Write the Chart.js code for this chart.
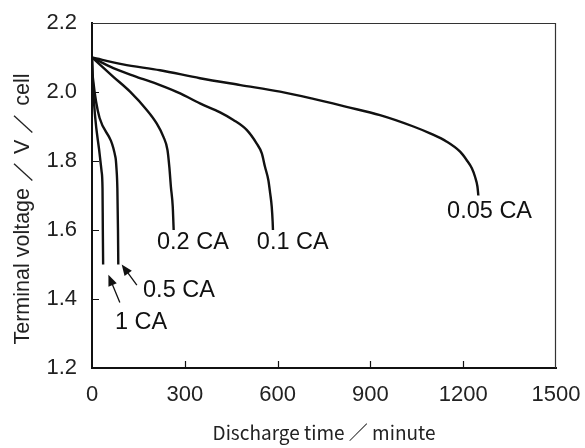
<!DOCTYPE html>
<html>
<head>
<meta charset="utf-8">
<script src="https://cdn.jsdelivr.net/npm/chart.js@4"></script>
<style>
  html, body { margin: 0; padding: 0; background: #fff; }
  #wrap { width: 585px; height: 448px; }
</style>
</head>
<body>
<div id="wrap"><canvas id="DischargeChart" width="585" height="448"></canvas></div>
<script>
// discharge curves: time in minutes, voltage in V/cell
var rate_names = ['1 CA', '0.5 CA', '0.2 CA', '0.1 CA', '0.05 CA'];

var time_1ca = [0, 2, 26, 31, 34, 35, 36];
var volt_1ca = [2.10, 2.04, 1.81, 1.77, 1.72, 1.60, 1.50];

var time_05ca = [0, 3, 76, 79, 82, 84, 85];
var volt_05ca = [2.10, 2.04, 1.81, 1.78, 1.72, 1.60, 1.50];

var time_02ca = [0, 69, 123, 177, 209, 231, 244, 250, 255, 261, 263, 264];
var volt_02ca = [2.10, 2.044, 2.001, 1.948, 1.909, 1.870, 1.832, 1.783, 1.726, 1.668, 1.624, 1.60];

var time_01ca = [0, 69, 144, 220, 285, 349, 414, 457, 500, 532, 549, 559, 570, 576, 581, 584, 585];
var volt_01ca = [2.10, 2.069, 2.044, 2.020, 1.996, 1.967, 1.941, 1.919, 1.890, 1.851, 1.822, 1.784, 1.745, 1.706, 1.668, 1.624, 1.60];

var time_005ca = [0, 100, 220, 349, 480, 608, 716, 823, 931, 1039, 1093, 1147, 1190, 1211, 1228, 1238, 1246, 1249];
var volt_005ca = [2.10, 2.08, 2.063, 2.04, 2.02, 2.001, 1.980, 1.957, 1.933, 1.900, 1.880, 1.856, 1.827, 1.803, 1.779, 1.755, 1.726, 1.70];

var x_ticks = [0, 300, 600, 900, 1200, 1500];
var y_ticks = [1.2, 1.4, 1.6, 1.8, 2.0, 2.2];

// where each curve's name sits (time, voltage of the text's left-middle point)
var label_time = [74, 165, 210, 533, 1148];
var label_volt = [1.333, 1.426, 1.565, 1.565, 1.655];

// arrows pointing from the 1 CA / 0.5 CA names to their curve ends
var arrow_from_time = [90, 145];
var arrow_from_volt = [1.39, 1.44];
var arrow_to_time = [53, 96];
var arrow_to_volt = [1.47, 1.50];

var curves = [
  [time_1ca, volt_1ca],
  [time_05ca, volt_05ca],
  [time_02ca, volt_02ca],
  [time_01ca, volt_01ca],
  [time_005ca, volt_005ca]
];

var datasets = curves.map(function (c, i) {
  return {
    label: rate_names[i],
    data: c[0].map(function (t, j) { return { x: t, y: c[1][j] }; }),
    borderColor: '#111',
    borderWidth: 2.4,
    pointRadius: 0,
    showLine: true,
    fill: false,
    cubicInterpolationMode: 'monotone'
  };
});

var sansFamily = "'Liberation Sans', Arial, sans-serif";

var extras = {
  id: 'extras',
  afterDatasetsDraw: function (chart) {
    var ctx = chart.ctx, xs = chart.scales.x, ys = chart.scales.y, a = chart.chartArea;
    ctx.save();
    // frame: thin top and right edges
    ctx.strokeStyle = '#333';
    ctx.lineWidth = 1.2;
    ctx.beginPath();
    ctx.moveTo(a.left, a.top + 0.5);
    ctx.lineTo(a.right - 0.5, a.top + 0.5);
    ctx.lineTo(a.right - 0.5, a.bottom);
    ctx.stroke();
    // inward tick marks
    ctx.strokeStyle = '#111';
    ctx.lineWidth = 1.2;
    ctx.beginPath();
    x_ticks.forEach(function (v) {
      if (v === 0 || v === 1500) return;
      var px = Math.round(xs.getPixelForValue(v)) + 0.5;
      ctx.moveTo(px, a.bottom);
      ctx.lineTo(px, a.bottom - 7);
    });
    y_ticks.forEach(function (v) {
      if (v === 1.2 || v === 2.2) return;
      var py = Math.round(ys.getPixelForValue(v)) + 0.5;
      ctx.moveTo(a.left, py);
      ctx.lineTo(a.left + 7, py);
    });
    ctx.stroke();
    // curve names
    ctx.fillStyle = '#111';
    ctx.font = '23.5px ' + sansFamily;
    ctx.textAlign = 'left';
    ctx.textBaseline = 'middle';
    rate_names.forEach(function (name, i) {
      ctx.fillText(name, xs.getPixelForValue(label_time[i]), ys.getPixelForValue(label_volt[i]));
    });
    // arrows
    arrow_from_time.forEach(function (t, i) {
      var x0 = xs.getPixelForValue(t), y0 = ys.getPixelForValue(arrow_from_volt[i]);
      var x1 = xs.getPixelForValue(arrow_to_time[i]), y1 = ys.getPixelForValue(arrow_to_volt[i]);
      var ang = Math.atan2(y1 - y0, x1 - x0);
      ctx.lineWidth = 1.3;
      ctx.beginPath();
      ctx.moveTo(x0, y0);
      ctx.lineTo(x1 - 8 * Math.cos(ang), y1 - 8 * Math.sin(ang));
      ctx.stroke();
      ctx.beginPath();
      ctx.moveTo(x1, y1);
      ctx.lineTo(x1 - 11 * Math.cos(ang) + 4.5 * Math.sin(ang), y1 - 11 * Math.sin(ang) - 4.5 * Math.cos(ang));
      ctx.lineTo(x1 - 11 * Math.cos(ang) - 4.5 * Math.sin(ang), y1 - 11 * Math.sin(ang) + 4.5 * Math.cos(ang));
      ctx.closePath();
      ctx.fill();
    });
    // y axis title, a little below the middle as in the original
    ctx.translate(23, 209);
    ctx.rotate(-Math.PI / 2);
    ctx.textAlign = 'center';
    ctx.fillStyle = '#222';
    ctx.font = '21.5px ' + sansFamily;
    ctx.fillText('Terminal voltage ／ V ／ cell', 0, 0);
    ctx.restore();
  }
};

var ctx = document.getElementById('DischargeChart').getContext('2d');
var DischargeChart = new Chart(ctx, {
  type: 'scatter',
  data: { datasets: datasets },
  options: {
    responsive: false,
    animation: false,
    events: [],
    layout: { padding: { top: 23, right: 29, left: 0, bottom: 0 } },
    plugins: { legend: { display: false }, tooltip: { enabled: false } },
    scales: {
      x: {
        type: 'linear',
        min: 0, max: 1500,
        afterBuildTicks: function (s) { s.ticks = x_ticks.map(function (v) { return { value: v }; }); },
        afterFit: function (s) { s.height = 80; s.paddingLeft = 0; s.paddingRight = 0; },
        grid: { display: false, drawTicks: false },
        border: { display: true, color: '#111', width: 2 },
        ticks: { color: '#222', padding: 14, font: { family: sansFamily, size: 22 }, maxRotation: 0,
                 callback: function (v) { return String(v); } },
        title: { display: true, text: 'Discharge time ／ minute', color: '#222', padding: { top: 0, bottom: 4 },
                 font: { family: "'Noto Sans CJK JP', sans-serif", size: 19 } }
      },
      y: {
        type: 'linear',
        min: 1.2, max: 2.2,
        afterBuildTicks: function (s) { s.ticks = y_ticks.map(function (v) { return { value: v }; }); },
        afterFit: function (s) { s.width = 92; s.paddingTop = 0; s.paddingBottom = 0; },
        grid: { display: false, drawTicks: false },
        border: { display: true, color: '#111', width: 2 },
        ticks: { color: '#222', padding: 15, font: { family: sansFamily, size: 22 },
                 callback: function (v) { return v.toFixed(1); } },
        title: { display: false }
      }
    }
  },
  plugins: [extras]
});
</script>
</body>
</html>
